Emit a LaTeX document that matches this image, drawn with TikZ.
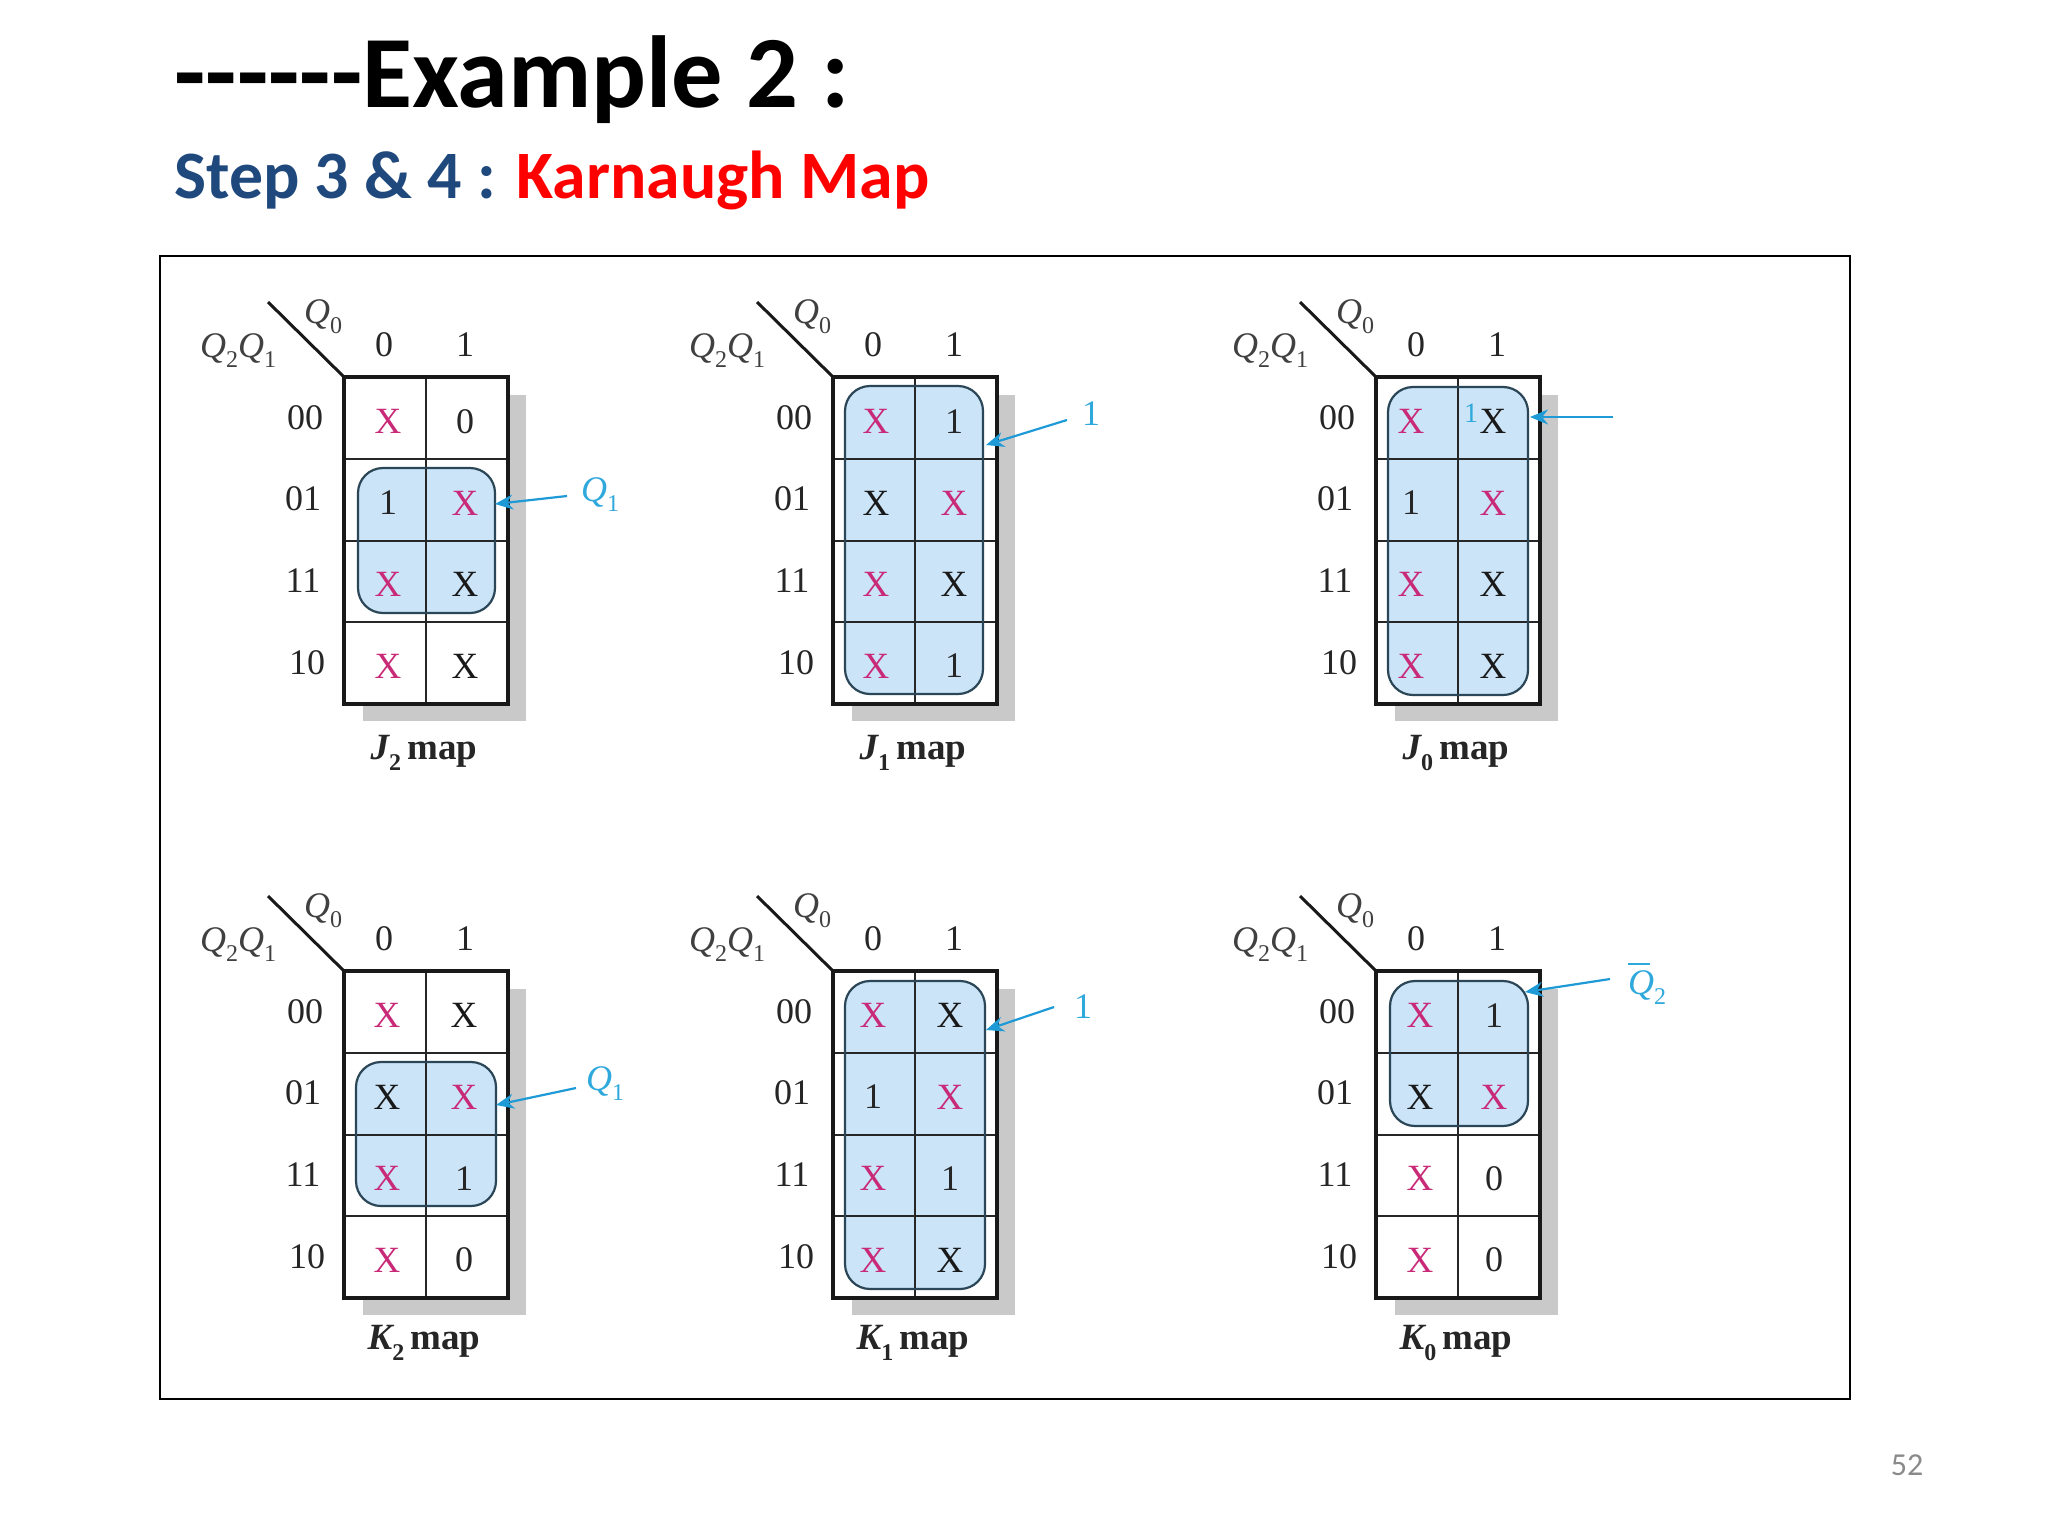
\documentclass[tikz,border=0pt]{standalone}
\usepackage{fontspec}
\setmainfont{Carlito}
\newfontfamily\kfont{Liberation Serif}
\usetikzlibrary{arrows.meta}
\definecolor{mapblue}{HTML}{CBE4F8}
\definecolor{loopedge}{HTML}{2B4656}
\definecolor{shadowgrey}{HTML}{C9C9C9}
\definecolor{xred}{HTML}{C92A78}
\definecolor{cyanlab}{HTML}{2FA8DC}
\definecolor{arrowblue}{HTML}{1E9AD6}
\definecolor{navytitle}{HTML}{1F497D}
\definecolor{pagegrey}{HTML}{8A8A8A}
\tikzset{
  x=0.5pt,y=-0.5pt,
  maptext/.style={inner sep=0pt,outer sep=0pt,font=\kfont\fontsize{18}{18}\selectfont,text=black!85},
  xmark/.style={maptext,font=\kfont\fontsize{18.5}{18.5}\selectfont},
  xpink/.style={xmark,text=xred},
  xblack/.style={xmark,text=black!90},
  bluelab/.style={maptext,text=cyanlab},
  maphead/.style={maptext,text=black!75},
  captionlab/.style={maptext,text=black!85},
  outerline/.style={draw=black!90,line width=2pt,line join=miter,outer sep=0pt},
  innerline/.style={draw=black!85,line width=1.1pt},
  looparea/.style={fill=mapblue,rounded corners=12.5pt},
  loopline/.style={draw=loopedge,line width=1.1pt,rounded corners=12.5pt},
  callout/.style={draw=arrowblue,line width=1.1pt,-{Stealth[length=9pt,width=7.5pt]}},
}
\newcommand\qsub[1]{\raisebox{-.28em}{\fontsize{12}{12}\selectfont #1}}
\newcommand\kbase[1]{%
  \fill[shadowgrey] (19,18) rectangle (182,344);
  \fill[white] (0,0) rectangle (164,327);
}
\newcommand\kloop[4]{\fill[looparea] (#1,#2) rectangle (#3,#4);}
\newcommand\kgrid[4]{% name, letter, subscript, caption y
  \draw[innerline] (82,0) -- (82,327);
  \foreach \yy in {82,164,245} \draw[innerline] (0,\yy) -- (164,\yy);
  \node[outerline,minimum width=82pt,minimum height=163.5pt,inner sep=0pt,anchor=north west] (#1-box) at (0,0) {};
  \coordinate (#1-diag) at (-76,-75);
  \draw[draw=black!90,line width=1.5pt] (#1-box.north west) -- (#1-diag);
  \node[maphead] (#1-qa) at (-21,-60) {\itshape Q\qsub{\upshape 0}};
  \node[maphead] (#1-qb) at (-106,-26) {\itshape Q\qsub{\upshape 2}Q\qsub{\upshape 1}};
  \node[maptext] (#1-c0) at (40,-32) {0};
  \node[maptext] (#1-c1) at (121,-32) {1};
  \node[maptext] (#1-r0) at (-39,41) {00};
  \node[maptext] (#1-r1) at (-41,122) {01};
  \node[maptext] (#1-r2) at (-41,204) {11};
  \node[maptext] (#1-r3) at (-37,286) {10};
  \node[captionlab,font=\kfont\fontsize{18.5}{18.5}\selectfont] (#1-cap) at (80,#4) {\bfseries\itshape #2\qsub{\upshape\bfseries #3}\,\upshape map};
}
\newcommand\kcell[4]{% name,x,y,code
  \if#4r\node[xpink] (#1) at (#2,#3) {X};\else
  \if#4x\node[xblack] (#1) at (#2,#3) {X};\else
  \node[maptext] (#1) at (#2,#3) {#4};\fi\fi
}
\newcommand\krows[4]{% name, xa, xb, rows
  \foreach \ca/\cb [count=\i from 0] in {#4}{
    \pgfmathsetmacro\yy{44.5+81.5*\i}
    \kcell{#1-\i a}{#2}{\yy}{\ca}
    \kcell{#1-\i b}{#3}{\yy}{\cb}
  }
}
\begin{document}
\begin{tikzpicture}
\useasboundingbox (0,0) rectangle (2048,1536);
\fill[white] (0,0) rectangle (2048,1536);
\node[inner sep=0pt,anchor=west,font=\fontsize{51.2}{51.2}\selectfont\bfseries,text=black] (title) at (174,80) {-{}-{}-{}-{}-{}-Example 2 :};
\node[inner sep=0pt,anchor=west,font=\fontsize{33.9}{33.9}\selectfont\bfseries,text=navytitle] (subtitle) at (174,180) {Step 3 \& 4 : \textcolor{red}{Karnaugh Map}};
\node[draw=black,line width=1pt,outer sep=0pt,minimum width=845pt,minimum height=571.5pt,inner sep=0pt,anchor=north west] (frame) at (160,256) {};
\node[inner sep=0pt,font=\fontsize{16}{16}\selectfont,text=pagegrey] (pagenum) at (1907,1465) {52};

% J2
\begin{scope}[shift={(344,377)}]
\kbase{j2}\kloop{14}{91}{151}{236}\kgrid{j2}{J}{2}{376}
\draw[loopline] (14,91) rectangle (151,236);
\krows{j2}{44}{121}{r/0,1/r,r/x,r/x}
\node[bluelab] (j2-lab) at (256,118) {\itshape Q\qsub{\upshape 1}};
\coordinate (j2-tip) at (151,127);
\coordinate (j2-tail) at (223,119);
\draw[callout] (j2-tail) -- (j2-tip);
\end{scope}
% J1
\begin{scope}[shift={(833,377)}]
\kbase{j1}\kloop{12}{9}{150}{317}\kgrid{j1}{J}{1}{376}
\draw[loopline] (12,9) rectangle (150,317);
\krows{j1}{43}{121}{r/1,x/r,r/x,r/1}
\node[bluelab] (j1-lab) at (258,37) {1};
\coordinate (j1-tip) at (153,68);
\coordinate (j1-tail) at (234,43);
\draw[callout] (j1-tail) -- (j1-tip);
\end{scope}
% J0
\begin{scope}[shift={(1376,377)}]
\kbase{j0}\kloop{12}{10}{152}{318}\kgrid{j0}{J}{0}{376}
\draw[loopline] (12,10) rectangle (152,318);
\krows{j0}{35}{117}{r/x,1/r,r/x,r/x}
\node[bluelab,font=\kfont\fontsize{14}{14}\selectfont] (j0-lab) at (95,36) {1};
\coordinate (j0-tip) at (154,40);
\coordinate (j0-tail) at (237,40);
\draw[callout] (j0-tail) -- (j0-tip);
\end{scope}
% K2
\begin{scope}[shift={(344,971)}]
\kbase{k2}\kloop{12}{91}{152}{235}\kgrid{k2}{K}{2}{372}
\draw[loopline] (12,91) rectangle (152,235);
\krows{k2}{43}{120}{r/x,x/r,r/1,r/0}
\node[bluelab] (k2-lab) at (261,113) {\itshape Q\qsub{\upshape 1}};
\coordinate (k2-tip) at (152,134);
\coordinate (k2-tail) at (232,117);
\draw[callout] (k2-tail) -- (k2-tip);
\end{scope}
% K1
\begin{scope}[shift={(833,971)}]
\kbase{k1}\kloop{12}{10}{152}{318}\kgrid{k1}{K}{1}{372}
\draw[loopline] (12,10) rectangle (152,318);
\krows{k1}{40}{117}{r/x,1/r,r/1,r/x}
\node[bluelab] (k1-lab) at (250,36) {1};
\coordinate (k1-tip) at (153,59);
\coordinate (k1-tail) at (221,36);
\draw[callout] (k1-tail) -- (k1-tip);
\end{scope}
% K0
\begin{scope}[shift={(1376,971)}]
\kbase{k0}\kloop{14}{10}{152}{155}\kgrid{k0}{K}{0}{372}
\draw[loopline] (14,10) rectangle (152,155);
\krows{k0}{44}{118}{r/1,x/r,r/0,r/0}
\node[bluelab] (k0-lab) at (271,13) {\rlap{\raisebox{.82em}{\rule{.62em}{.05em}}}\itshape Q\qsub{\upshape 2}};
\coordinate (k0-tip) at (149,21);
\coordinate (k0-tail) at (234,8);
\draw[callout] (k0-tail) -- (k0-tip);
\end{scope}
\end{tikzpicture}
\end{document}
